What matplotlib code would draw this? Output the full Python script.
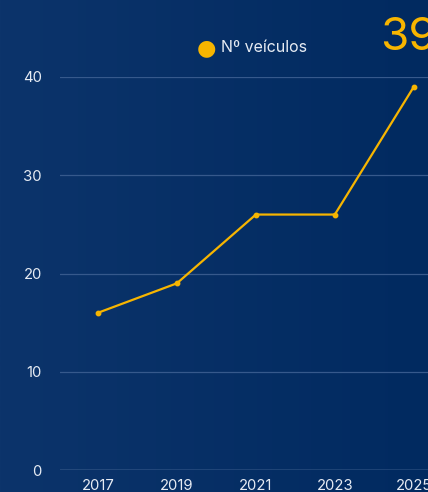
import numpy as np
import matplotlib
matplotlib.use("Agg")
from matplotlib import pyplot as plt
from matplotlib.colors import LinearSegmentedColormap

years = ["2017", "2019", "2021", "2023", "2025"]
vehicles = [16, 19, 26, 26, 39]
y_ticks = [0, 10, 20, 30, 40]
series_label = "Nº veículos"
big_value = "39"

plt.rcParams['font.family'] = ['Inter', 'DejaVu Sans']

line_color = '#f7b500'
text_color = '#e6ebf3'

fig = plt.figure(figsize=(4.28, 4.92), dpi=100)

# background gradient
bg = fig.add_axes([0, 0, 1, 1], zorder=-10)
grad = np.linspace(0, 1, 256).reshape(1, -1)
cmap = LinearSegmentedColormap.from_list('bg', ['#0c346b', '#012a60'])
bg.imshow(grad, aspect='auto', cmap=cmap, extent=[0, 1, 0, 1])
bg.axis('off')

ax = fig.add_axes([60 / 428, 22 / 492, 1 - 60 / 428, 393 / 492])
ax.patch.set_alpha(0)

x = np.arange(len(years))
ax.plot(x, vehicles, color=line_color, lw=1.6, marker='o', ms=3.2, clip_on=False, zorder=3)

ax.set_xlim(-0.48, 4.18)
ax.set_ylim(0, 40)
ax.set_yticks(y_ticks)
ax.set_xticks(x)
ax.set_xticklabels(years)

for v in y_ticks[1:]:
    ax.axhline(v, color='#36598c', lw=0.9, zorder=1)
ax.axhline(0, color='#8aa3c8', lw=1.0, zorder=2)

for s in ax.spines.values():
    s.set_visible(False)
ax.tick_params(axis='both', length=0, colors=text_color, labelsize=10.7)
ax.tick_params(axis='y', pad=13)
ax.tick_params(axis='x', pad=6.5)

# legend
fig.text(206 / 428, 1 - 48 / 492, '●', color=line_color, fontsize=16,
         ha='center', va='center', family='DejaVu Sans')
fig.text(221 / 428, 1 - 48 / 492, series_label, color=text_color, fontsize=11.5,
         ha='left', va='center')

# big number
fig.text(380 / 428, 1 - 50 / 492, big_value, color=line_color, fontsize=33,
         ha='left', va='baseline')

fig.savefig('out.png', dpi=100)
